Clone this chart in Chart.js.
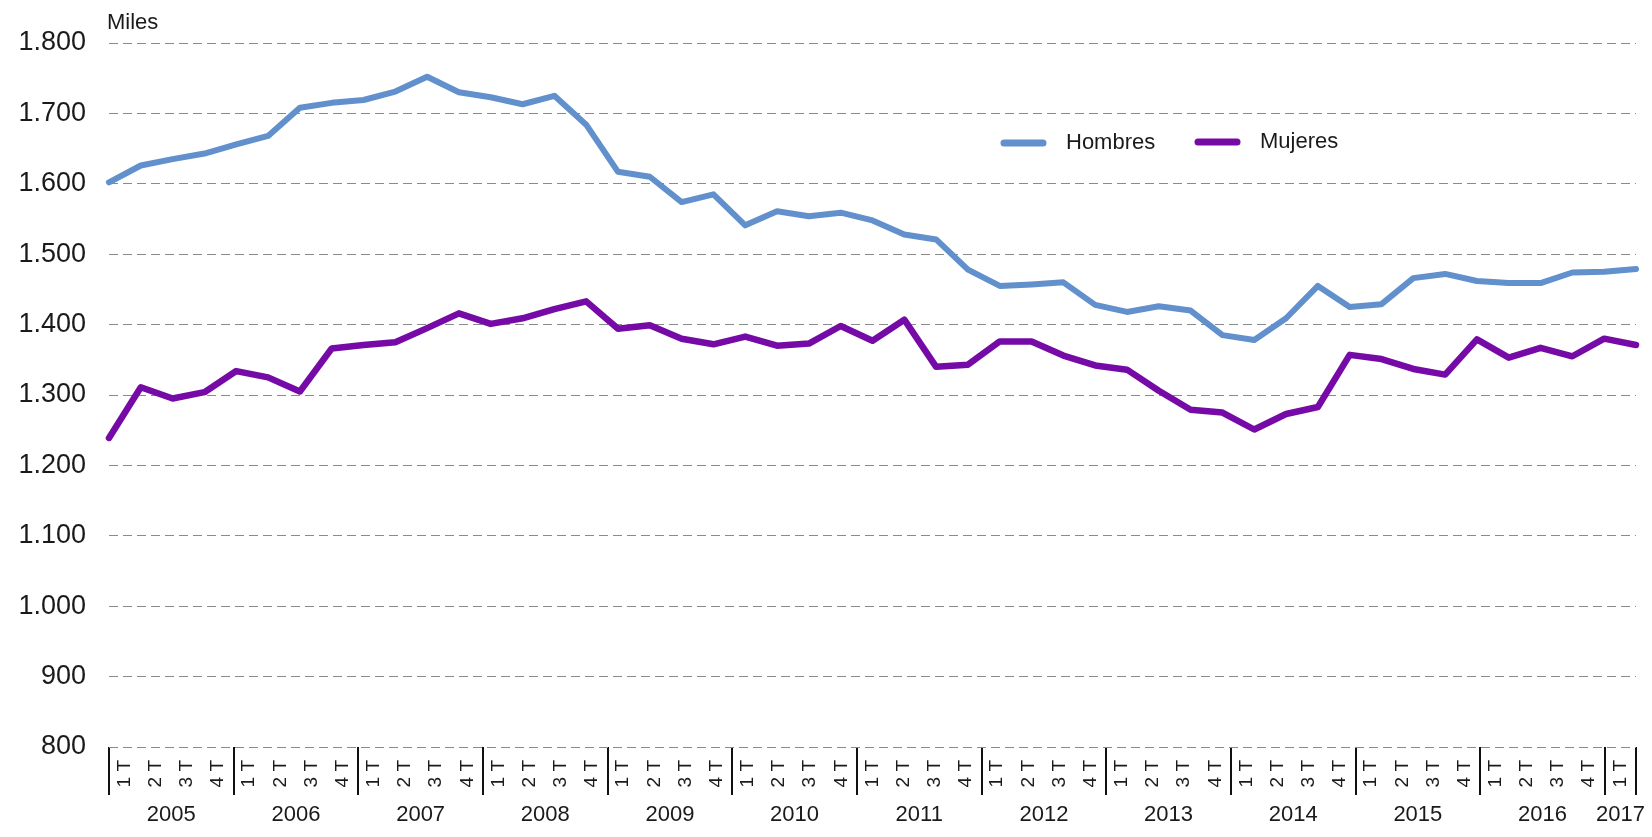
<!DOCTYPE html>
<html>
<head>
<meta charset="utf-8">
<script src="https://cdn.jsdelivr.net/npm/chart.js@4.4.1/dist/chart.umd.min.js"></script>
<style>
  html, body { margin: 0; padding: 0; background: #ffffff; }
  canvas { display: block; }
</style>
</head>
<body>
<canvas id="c" width="1652" height="837"></canvas>
<script>
// ---- Data ----
const categories = [
  '1 T','2 T','3 T','4 T', '1 T','2 T','3 T','4 T', '1 T','2 T','3 T','4 T',
  '1 T','2 T','3 T','4 T', '1 T','2 T','3 T','4 T', '1 T','2 T','3 T','4 T',
  '1 T','2 T','3 T','4 T', '1 T','2 T','3 T','4 T', '1 T','2 T','3 T','4 T',
  '1 T','2 T','3 T','4 T', '1 T','2 T','3 T','4 T', '1 T','2 T','3 T','4 T',
  '1 T'
];
const years = ['2005','2006','2007','2008','2009','2010','2011','2012','2013','2014','2015','2016','2017'];
const quartersPerYear = [4,4,4,4,4,4,4,4,4,4,4,4,1];

const hombres = [1602,1626,1635,1643,1656,1668,1708,1715,1719,1731,1752,1730,1723,1713,1725,1684,
                 1617,1610,1574,1585,1541,1561,1554,1559,1548,1528,1521,1478,1455,1457,1460,1428,
                 1418,1426,1420,1385,1378,1409,1455,1425,1429,1466,1472,1462,1459,1459,1474,1475,1479];
const mujeres = [1239,1311,1295,1304,1334,1325,1305,1366,1371,1375,1395,1416,1401,1409,1422,1433,
                 1394,1399,1380,1372,1383,1370,1373,1398,1377,1407,1340,1343,1376,1376,1356,1342,
                 1336,1306,1279,1275,1251,1273,1283,1357,1351,1337,1329,1379,1353,1367,1355,1380,1371];

const yTicks = [800,900,1000,1100,1200,1300,1400,1500,1600,1700,1800];
const yTickLabels = ['800','900','1.000','1.100','1.200','1.300','1.400','1.500','1.600','1.700','1.800'];
const unitLabel = 'Miles';

// year group centres in category units (0..49)
const yearCenters = [];
{ let start = 0; quartersPerYear.forEach(n => { yearCenters.push(start + n / 2); start += n; }); }

const FONT = "'Liberation Sans', Arial, sans-serif";
const TEXT = '#1a1a1a';
const COL_H = '#6190cc';
const COL_M = '#760aa7';

Chart.defaults.font.family = FONT;
Chart.defaults.color = TEXT;

const overlayPlugin = {
  id: 'overlay',
  afterDraw(chart) {
    const c = chart.ctx;
    const ca = chart.chartArea;
    c.save();
    // unit label
    c.fillStyle = TEXT;
    c.font = "22px " + FONT;
    c.textAlign = 'left';
    c.textBaseline = 'alphabetic';
    c.fillText(unitLabel, ca.left - 2, 29);
    // legend
    const items = chart.data.datasets.map(d => ({ label: d.label, color: d.borderColor }));
    const pos = [{ x: 1001, y: 143 }, { x: 1195, y: 142 }];
    items.forEach((it, i) => {
      const p = pos[i];
      c.strokeStyle = it.color;
      c.lineWidth = 7;
      c.lineCap = 'round';
      c.beginPath();
      c.moveTo(p.x + 3, p.y);
      c.lineTo(p.x + 42, p.y);
      c.stroke();
      c.fillStyle = TEXT;
      c.font = "22px " + FONT;
      c.textBaseline = 'middle';
      c.fillText(it.label, p.x + 65, p.y);
    });
    c.restore();
  }
};

new Chart(document.getElementById('c'), {
  type: 'line',
  data: {
    labels: categories,
    datasets: [
      { label: 'Hombres', data: hombres, borderColor: COL_H, backgroundColor: COL_H, borderWidth: 6,
        pointRadius: 0, tension: 0, clip: false, borderCapStyle: 'round', borderJoinStyle: 'round',
        xAxisID: 'x', yAxisID: 'y' },
      { label: 'Mujeres', data: mujeres, borderColor: COL_M, backgroundColor: COL_M, borderWidth: 6.5,
        pointRadius: 0, tension: 0, clip: false, borderCapStyle: 'round', borderJoinStyle: 'round',
        xAxisID: 'x', yAxisID: 'y' }
    ]
  },
  options: {
    responsive: false,
    animation: false,
    events: [],
    layout: { padding: { left: 0, right: 16, top: 43, bottom: 0 } },
    plugins: { legend: { display: false }, tooltip: { enabled: false }, title: { display: false } },
    scales: {
      x: { type: 'category', display: false, offset: false },
      x2: {
        type: 'category', labels: categories, position: 'bottom', offset: true, weight: 1,
        grid: {
          display: true, drawOnChartArea: false, drawTicks: true, tickLength: 48, offset: true,
          color: c => (c.index === undefined || c.index % 4 === 0) ? '#111111' : 'rgba(0,0,0,0)',
          lineWidth: 2
        },
        border: { display: false },
        ticks: { autoSkip: false, minRotation: 90, maxRotation: 90, padding: -35,
                 font: { size: 19 }, color: TEXT },
        afterFit(s) { s.height = 50; s.paddingLeft = 0; s.paddingRight = 0; }
      },
      x3: {
        type: 'linear', position: 'bottom', min: 0, max: 49, weight: 2,
        grid: { display: false, drawTicks: false },
        border: { display: false },
        afterBuildTicks(s) { s.ticks = yearCenters.map(v => ({ value: v })); },
        ticks: { autoSkip: false, minRotation: 0, maxRotation: 0, padding: 5,
                 font: { size: 22 }, color: TEXT,
                 callback: (v, i) => years[i] },
        afterFit(s) { s.height = 40; s.paddingLeft = 0; s.paddingRight = 0; }
      },
      y: {
        type: 'linear', min: 800, max: 1800,
        afterBuildTicks(s) { s.ticks = yTicks.map(v => ({ value: v })); },
        ticks: { padding: 23, font: { size: 27 }, color: TEXT,
                 callback: (v, i) => yTickLabels[i] },
        grid: { drawTicks: false, color: '#8a8a8a', lineWidth: 1 },
        border: { display: false, dash: [9, 5] },
        afterFit(s) { s.width = 109; s.paddingTop = 0; s.paddingBottom = 0; }
      }
    }
  },
  plugins: [overlayPlugin]
});
</script>
</body>
</html>
